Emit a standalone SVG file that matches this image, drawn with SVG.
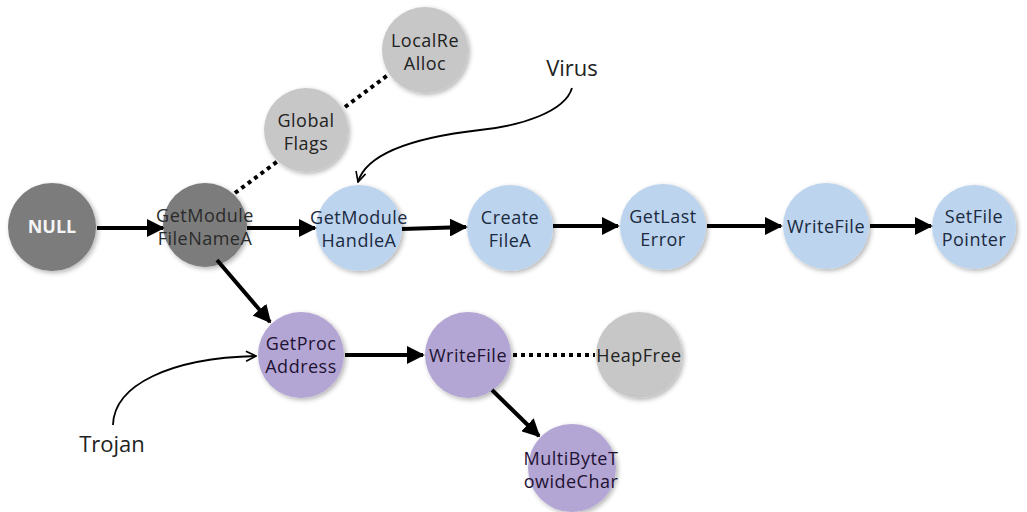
<svg xmlns="http://www.w3.org/2000/svg" width="1027" height="512" viewBox="0 0 1027 512">
<defs>
<filter id="sh" x="-20%" y="-20%" width="150%" height="150%">
<feGaussianBlur in="SourceAlpha" stdDeviation="2.5"/>
<feOffset dx="2" dy="2" result="b"/>
<feComponentTransfer><feFuncA type="linear" slope="0.3"/></feComponentTransfer>
<feMerge><feMergeNode/><feMergeNode in="SourceGraphic"/></feMerge>
</filter>
<marker id="ah" viewBox="0 0 10 10" refX="9" refY="5" markerWidth="4.5" markerHeight="4.5" markerUnits="strokeWidth" orient="auto">
<path d="M0,0 L10,5 L0,10 z" fill="#000"/>
</marker>
<marker id="oa" viewBox="0 0 12 12" refX="11" refY="6" markerWidth="12" markerHeight="12" markerUnits="userSpaceOnUse" orient="auto">
<path d="M1,1 L11,6 L1,11" fill="none" stroke="#000" stroke-width="1.6"/>
</marker>
</defs>
<style>
text{font-family:"Open Sans","Noto Sans",sans-serif;font-size:18px;letter-spacing:0.5px;text-anchor:middle}
.dk{fill:#7b7b7b;filter:url(#sh)}
.lg{fill:#c7c7c7;filter:url(#sh)}
.bl{fill:#bcd4ee;filter:url(#sh)}
.pu{fill:#b4a6d4;filter:url(#sh)}
.tb{fill:#1b2a40}
.tp{fill:#1e1233}
.tg{fill:#222}
.tw{fill:#f4f4f4;font-weight:bold;font-size:18px;letter-spacing:0}
.th{fill:#2a2a2a}
.e{stroke:#000;stroke-width:4;fill:none;marker-end:url(#ah)}
.d{stroke:#000;stroke-width:4;fill:none;stroke-dasharray:4 4}
.c{stroke:#000;stroke-width:1.8;fill:none;marker-end:url(#oa)}
.lbl{font-size:22px;letter-spacing:0;fill:#222}
</style>
<g id="n-null"><circle class="dk" cx="52" cy="227" r="44"/><text class="tw" x="52" y="233">NULL</text></g>
<g id="n-gmfna"><circle class="dk" cx="205" cy="225" r="42"/><text class="th" x="205" y="222">GetModule</text><text class="th" x="205" y="245">FileNameA</text></g>
<g id="n-globalflags"><circle class="lg" cx="306" cy="130" r="42"/><text class="tg" x="306" y="127">Global</text><text class="tg" x="306" y="150">Flags</text></g>
<g id="n-localrealloc"><circle class="lg" cx="425" cy="50" r="43"/><text class="tg" x="425" y="47">LocalRe</text><text class="tg" x="425" y="70">Alloc</text></g>
<g id="n-gmha"><circle class="bl" cx="359" cy="228" r="43"/><text class="tb" x="359" y="224">GetModule</text><text class="tb" x="359" y="247">HandleA</text></g>
<g id="n-createfilea"><circle class="bl" cx="510" cy="228" r="43"/><text class="tb" x="510" y="224">Create</text><text class="tb" x="510" y="247">FileA</text></g>
<g id="n-getlasterror"><circle class="bl" cx="663" cy="227" r="43"/><text class="tb" x="663" y="223">GetLast</text><text class="tb" x="663" y="246">Error</text></g>
<g id="n-writefile1"><circle class="bl" cx="826" cy="226" r="43"/><text class="tb" x="826" y="233">WriteFile</text></g>
<g id="n-setfilepointer"><circle class="bl" cx="974" cy="227" r="42"/><text class="tb" x="974" y="223">SetFile</text><text class="tb" x="974" y="246">Pointer</text></g>
<g id="n-getprocaddress"><circle class="pu" cx="301" cy="355" r="43"/><text class="tp" x="301" y="350">GetProc</text><text class="tp" x="301" y="373">Address</text></g>
<g id="n-writefile2"><circle class="pu" cx="468" cy="355" r="43"/><text class="tp" x="468" y="362">WriteFile</text></g>
<g id="n-heapfree"><circle class="lg" cx="639" cy="355" r="43"/><text class="tg" x="639" y="362">HeapFree</text></g>
<g id="n-multibyte"><circle class="pu" cx="572" cy="468" r="44"/><text class="tp" x="571" y="465">MultiByteT</text><text class="tp" x="571" y="488">owideChar</text></g>
<g id="labels"><text class="lbl" x="572" y="76">Virus</text><text class="lbl" x="112" y="452">Trojan</text></g>
<g id="connectors">
<line class="e" x1="97" y1="228" x2="163" y2="228"/>
<line class="e" x1="247" y1="228" x2="315" y2="228"/>
<line class="e" x1="402" y1="229" x2="466" y2="227"/>
<line class="e" x1="553" y1="226" x2="618" y2="226"/>
<line class="e" x1="707" y1="226" x2="781" y2="226"/>
<line class="e" x1="870" y1="226" x2="931" y2="226"/>
<line class="e" x1="217" y1="260" x2="270" y2="322"/>
<line class="e" x1="345" y1="355" x2="423" y2="355"/>
<line class="e" x1="492" y1="390" x2="539" y2="436"/>
<line class="d" x1="513" y1="355" x2="595" y2="355"/>
<line class="d" x1="235" y1="193" x2="278" y2="161"/>
<line class="d" x1="345" y1="107" x2="388" y2="75"/>
<path class="c" d="M572,88 C565,112 520,126 480,130 C410,138 366,155 358,182"/>
<path class="c" d="M113,425 C114,385 170,358 256,356"/>
</g>
</svg>
